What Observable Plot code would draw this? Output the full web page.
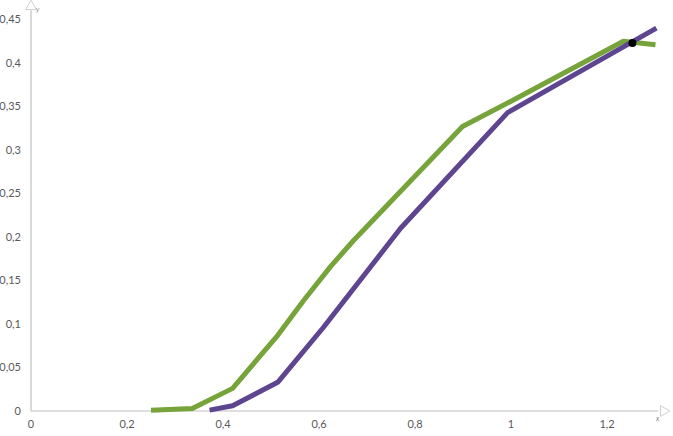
<!DOCTYPE html>
<html>
<head>
<meta charset="utf-8">
<script src="https://cdn.jsdelivr.net/npm/d3@7"></script>
<script src="https://cdn.jsdelivr.net/npm/@observablehq/plot@0.6"></script>
<style>
  html, body { margin: 0; padding: 0; background: #fff; }
  #chart { width: 673px; height: 436px; }
</style>
</head>
<body>
<div id="chart"></div>
<script>
// Green series
const greenX = [0.25, 0.336, 0.42, 0.514, 0.568, 0.624, 0.672, 0.899, 1.0, 1.234, 1.301];
const greenY = [0.001, 0.003, 0.026, 0.087, 0.127, 0.166, 0.196, 0.327, 0.356, 0.425, 0.421];
// Purple series
const purpleX = [0.372, 0.42, 0.514, 0.609, 0.77, 0.993, 1.303];
const purpleY = [0.001, 0.006, 0.033, 0.096, 0.21, 0.343, 0.44];
// Intersection point
const crossX = [1.253];
const crossY = [0.423];
// Tick values
const xTicks = [0, 0.2, 0.4, 0.6, 0.8, 1, 1.2];
const yTicks = [0, 0.05, 0.1, 0.15, 0.2, 0.25, 0.3, 0.35, 0.4, 0.45];
// Axis extents (arrow positions)
const xAxisEnd = 1.318;
const yAxisEnd = 0.465;

const green = greenX.map((x, i) => ({x, y: greenY[i]}));
const purple = purpleX.map((x, i) => ({x, y: purpleY[i]}));
const cross = crossX.map((x, i) => ({x, y: crossY[i]}));
const fmt = d => String(d).replace(".", ",");

const axisColor = "#bfbfbf";
const textColor = "#595959";

const chart = Plot.plot({
  width: 673,
  height: 436,
  marginLeft: 30.5,
  marginRight: 18.5,
  marginTop: 19,
  marginBottom: 25.5,
  style: {fontFamily: "Lato, 'Open Sans', sans-serif", fontSize: "11px", color: textColor, background: "#fff", overflow: "visible"},
  x: {domain: [0, 1.3]},
  y: {domain: [0, 0.45]},
  marks: [
    Plot.axisX({ticks: xTicks, tickFormat: fmt, tickSize: 0, tickPadding: 9, label: null, fill: textColor}),
    Plot.axisY({ticks: yTicks, tickFormat: fmt, tickSize: 0, tickPadding: 10, label: null, fill: textColor}),
    Plot.ruleY([0], {x1: 0, x2: xAxisEnd - 0.01, stroke: axisColor, strokeWidth: 1.2, clip: false}),
    Plot.ruleX([0], {y1: 0, y2: yAxisEnd - 0.005, stroke: axisColor, strokeWidth: 1.2, clip: false}),
    Plot.dot([{x: 0, y: yAxisEnd}], {x: "x", y: "y", symbol: "triangle", r: 4, fill: "white", stroke: "#d0d0d0", strokeWidth: 1}),
    Plot.dot([{x: xAxisEnd, y: 0}], {x: "x", y: "y", symbol: "triangle", r: 4, rotate: 90, fill: "white", stroke: "#d0d0d0", strokeWidth: 1}),
    Plot.text([{x: 0, y: yAxisEnd, t: "y"}], {x: "x", y: "y", text: "t", dx: 5, dy: 3, fontSize: 7, fill: "#888", textAnchor: "start", fontStyle: "italic"}),
    Plot.text([{x: xAxisEnd, y: 0, t: "x"}], {x: "x", y: "y", text: "t", dx: -6, dy: 8, fontSize: 7, fill: "#888", fontStyle: "italic"}),
    Plot.line(green, {x: "x", y: "y", stroke: "#77a33b", strokeWidth: 5, strokeLinejoin: "round", strokeLinecap: "butt"}),
    Plot.line(purple, {x: "x", y: "y", stroke: "#5e4590", strokeWidth: 5, strokeLinejoin: "round", strokeLinecap: "butt"}),
    Plot.dot(cross, {x: "x", y: "y", r: 4, fill: "black", stroke: "none"})
  ]
});
document.getElementById("chart").appendChild(chart);
</script>
</body>
</html>
